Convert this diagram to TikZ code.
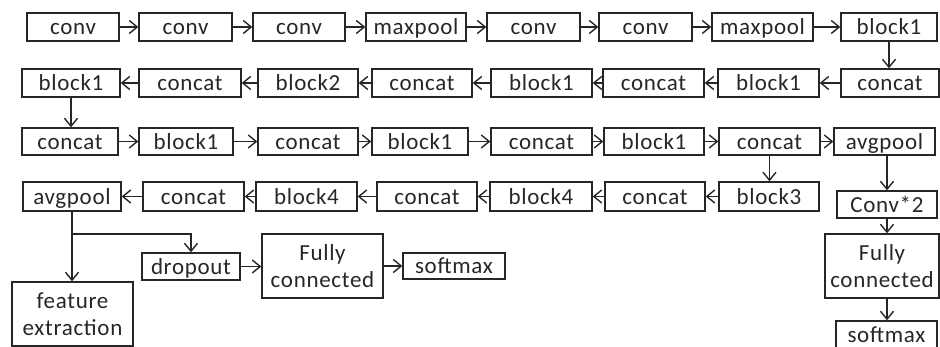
\documentclass[tikz,border=0pt]{standalone}
\usepackage{fontspec}
\setmainfont[LetterSpace=3.0]{Carlito}
\usetikzlibrary{arrows.meta}
\tikzset{
  box/.style={draw=black!85, line width=1.3pt, inner sep=0pt, text=black!85,
    font=\fontsize{23}{27}\selectfont},
  one/.style={text height=16pt, text depth=0pt},
  two/.style={align=center},
  arr/.style={draw=black!85, line width=1.4pt, -{Straight Barb[length=8pt,width=13pt,line width=1.4pt]}},
  ln/.style={draw=black!85, line width=1.4pt}
}
\newcommand{\nb}[7]{\node[box,#1, minimum width={(#5-#3)*1pt}, minimum height={(#6-#4)*1pt}] (#2) at ({(#3+#5)/2},{(#4+#6)/2}) {#7};}
\begin{document}
\begin{tikzpicture}[x=1pt,y=-1pt]
\useasboundingbox (0,0) rectangle (940,347);
% row 1
\nb{one}{a1}{27}{13}{119}{41}{conv}
\nb{one}{a2}{139}{13}{232}{41}{conv}
\nb{one}{a3}{253}{13}{345}{41}{conv}
\nb{one}{a4}{366}{13}{466}{41}{maxpool}
\nb{one}{a5}{487}{13}{580}{41}{conv}
\nb{one}{a6}{599}{13}{692}{41}{conv}
\nb{one}{a7}{712}{13}{813}{41}{maxpool}
\nb{one}{a8}{841}{13}{937}{41}{block1}
% row 2
\nb{one}{b1}{22}{69}{120}{97}{block1}
\nb{one}{b2}{139}{69}{241}{97}{concat}
\nb{one}{b3}{258}{69}{358}{97}{block2}
\nb{one}{b4}{372}{69}{472}{97}{concat}
\nb{one}{b5}{491}{69}{592}{97}{block1}
\nb{one}{b6}{603}{69}{704}{97}{concat}
\nb{one}{b7}{718}{69}{819}{97}{block1}
\nb{one}{b8}{841}{69}{939}{97}{concat}
% row 3
\nb{one}{c1}{22}{128}{118}{155}{concat}
\nb{one}{c2}{139}{128}{233}{155}{block1}
\nb{one}{c3}{258}{128}{358}{155}{concat}
\nb{one}{c4}{372}{128}{468}{155}{block1}
\nb{one}{c5}{491}{128}{592}{155}{concat}
\nb{one}{c6}{604}{128}{704}{155}{block1}
\nb{one}{c7}{719}{128}{820}{155}{concat}
\nb{one}{c8}{834}{128}{935}{155}{avgpool}
% row 4
\nb{one}{d1}{23}{182}{121}{211}{avgpool}
\nb{one}{d2}{143}{182}{244}{211}{concat}
\nb{one}{d3}{256}{182}{357}{211}{block4}
\nb{one}{d4}{377}{182}{477}{211}{concat}
\nb{one}{d5}{490}{182}{592}{211}{block4}
\nb{one}{d6}{605}{182}{705}{211}{concat}
\nb{one}{d7}{719}{182}{819}{211}{block3}
% right column
\nb{one}{cv}{837}{191}{937}{218}{Conv*2}
\nb{two}{fcr}{825}{234}{939}{298}{Fully\\connected}
\nb{one}{smr}{836}{321}{937}{349}{softmax}
% bottom left
\nb{one}{dr}{142}{253}{240}{280}{dropout}
\nb{two}{fcm}{262}{234}{383}{298}{Fully\\connected}
\nb{one}{smm}{403}{253}{505}{279}{softmax}
\nb{two}{fe}{12}{282}{133}{346}{feature\\extraction}
% row arrows
\foreach \p/\q in {a1/a2,a2/a3,a3/a4,a4/a5,a5/a6,a6/a7,a7/a8,
                   b8/b7,b7/b6,b6/b5,b5/b4,b4/b3,b3/b2,b2/b1,
                   c1/c2,c2/c3,c3/c4,c4/c5,c5/c6,c6/c7,c7/c8,
                   d7/d6,d6/d5,d5/d4,d4/d3,d3/d2,d2/d1}
  \draw[arr] (\p) -- (\q);
% vertical arrows
\draw[arr] (a8.south) -- (a8.south |- b8.north);
\draw[arr] (b1.south) -- (b1.south |- c1.north);
\draw[arr] (c7.south) -- (c7.south |- d7.north);
\draw[arr] (cv.north |- c8.south) -- (cv.north);
\draw[arr] (cv.south) -- (cv.south |- fcr.north);
\draw[arr] (cv.south |- fcr.south) -- (cv.south |- smr.north);
% bottom left
\coordinate (br) at (d1.south |- 0,234);
\draw[arr] (d1.south) -- (d1.south |- fe.north);
\draw[arr] (br) -- (br -| dr.north) -- (dr.north);
\draw[arr] (dr.east) -- (dr.east -| fcm.west);
\draw[arr] (smm.west -| fcm.east) -- (smm.west);
\end{tikzpicture}
\end{document}
